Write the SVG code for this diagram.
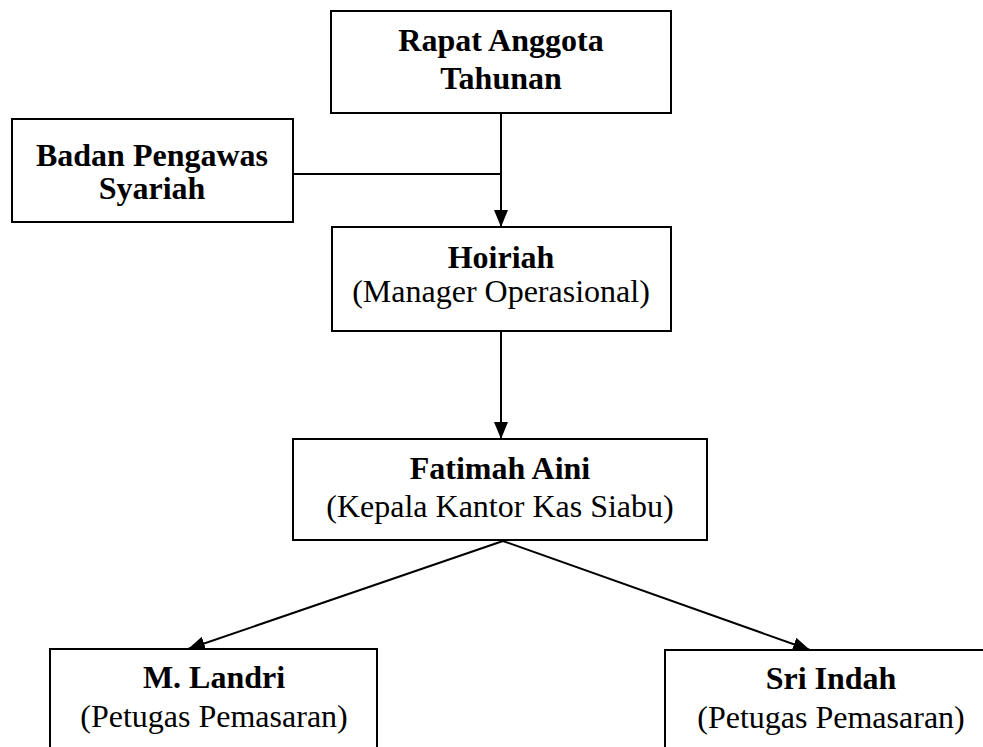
<svg xmlns="http://www.w3.org/2000/svg" width="983" height="747" viewBox="0 0 983 747">
<style>
.box{fill:#fff;stroke:#000;stroke-width:2}
.b{font-family:"Liberation Serif","Times New Roman",serif;font-size:32px;font-weight:bold;text-anchor:middle;fill:#000}
.r{font-family:"Liberation Serif","Times New Roman",serif;font-size:32px;text-anchor:middle;fill:#000}
.ln{fill:none;stroke:#000;stroke-width:2}
</style>
<defs>
<marker id="ah" markerUnits="userSpaceOnUse" markerWidth="18" markerHeight="16" viewBox="0 0 18 16" refX="17" refY="8" orient="auto">
<path d="M0,1 L17,8 L0,15 Z" fill="#000"/>
</marker>
</defs>
<rect width="983" height="747" fill="#fff"/>
<g id="connectors">
<line class="ln" x1="293" y1="174" x2="501" y2="174"/>
<line class="ln" x1="501" y1="113" x2="501" y2="227" marker-end="url(#ah)"/>
<line class="ln" x1="501" y1="331" x2="501" y2="439" marker-end="url(#ah)"/>
<line class="ln" x1="503" y1="541" x2="188" y2="649" marker-end="url(#ah)"/>
<line class="ln" x1="503" y1="541" x2="810" y2="650" marker-end="url(#ah)"/>
</g>
<g id="rapat">
<rect class="box" x="331" y="11" width="340" height="102"/>
<text class="b" x="501" y="51">Rapat Anggota</text>
<text class="b" x="501" y="89">Tahunan</text>
</g>
<g id="badan">
<rect class="box" x="12" y="119" width="281" height="103"/>
<text class="b" x="152" y="166">Badan Pengawas</text>
<text class="b" x="152" y="199">Syariah</text>
</g>
<g id="hoiriah">
<rect class="box" x="332" y="227" width="339" height="104"/>
<text class="b" x="501" y="268">Hoiriah</text>
<text class="r" x="501" y="302">(Manager Operasional)</text>
</g>
<g id="fatimah">
<rect class="box" x="293" y="439" width="414" height="101"/>
<text class="b" x="500" y="479">Fatimah Aini</text>
<text class="r" x="500" y="517">(Kepala Kantor Kas Siabu)</text>
</g>
<g id="landri">
<rect class="box" x="50" y="649" width="327" height="110"/>
<text class="b" x="214" y="688">M. Landri</text>
<text class="r" x="214" y="727">(Petugas Pemasaran)</text>
</g>
<g id="sri">
<rect class="box" x="665" y="650" width="332" height="110"/>
<text class="b" x="831" y="689">Sri Indah</text>
<text class="r" x="831" y="728">(Petugas Pemasaran)</text>
</g>
</svg>
